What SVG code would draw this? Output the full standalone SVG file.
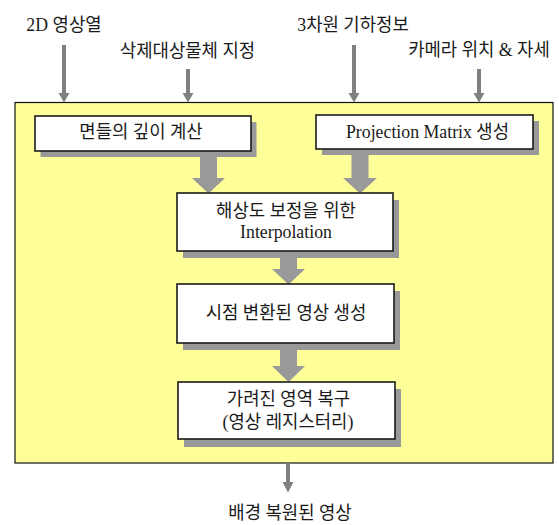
<svg xmlns="http://www.w3.org/2000/svg" width="559" height="525" viewBox="0 0 559 525">
<style>
text{font-family:"Liberation Serif","Noto Sans CJK KR",serif;font-size:17.8px;fill:#1a1a1a;text-anchor:middle}
.box{fill:#fff;stroke:#1a1a1a;stroke-width:1.6}
.shadow{fill:#999}
.block{fill:#999}
.thin{stroke:#808080;stroke-width:4;fill:none}
.head{fill:#808080}
</style>
<rect x="0" y="0" width="559" height="525" fill="#fff"/>
<rect id="frame" x="15" y="102.5" width="538" height="360.5" fill="#ffff99" stroke="#111" stroke-width="1.2"/>
<g id="connectors">
<line class="thin" x1="64" y1="45" x2="64" y2="94"/><polygon class="head" points="58.5,93 69.5,93 64,102.5"/>
<line class="thin" x1="188" y1="69" x2="188" y2="94"/><polygon class="head" points="182.5,93 193.5,93 188,102.5"/>
<line class="thin" x1="354" y1="45" x2="354" y2="94"/><polygon class="head" points="348.5,93 359.5,93 354,102.5"/>
<line class="thin" x1="479" y1="69" x2="479" y2="94"/><polygon class="head" points="473.5,93 484.5,93 479,102.5"/>
<line class="thin" x1="288" y1="463" x2="288" y2="483"/><polygon class="head" points="282.5,482 293.5,482 288,492.5"/>
<polygon class="block" points="200,155 217,155 217,178 225,178 208.5,193.5 192,178 200,178"/>
<polygon class="block" points="351.5,155 368.5,155 368.5,178 377,178 360,193.5 343,178 351.5,178"/>
<polygon class="block" points="280,257 297,257 297,269 305,269 288.5,284.5 272,269 280,269"/>
<polygon class="block" points="280,349 297,349 297,366 305,366 288.5,382 272,366 280,366"/>
</g>
<g id="in1"><text x="64" y="31">2D 영상열</text></g>
<g id="in2"><text x="187.5" y="56.5">삭제대상물체 지정</text></g>
<g id="in3"><text x="353" y="30.5">3차원 기하정보</text></g>
<g id="in4"><text x="479" y="56">카메라 위치 &amp; 자세</text></g>
<g id="n1"><rect class="shadow" x="40.5" y="122" width="216" height="35"/><rect class="box" x="35" y="116" width="216" height="35"/><text x="141" y="138">면들의 깊이 계산</text></g>
<g id="n2"><rect class="shadow" x="322" y="121" width="217" height="34"/><rect class="box" x="316" y="115" width="217" height="34"/><text x="427.5" y="137.5">Projection Matrix 생성</text></g>
<g id="n3"><rect class="shadow" x="183" y="200" width="216" height="58"/><rect class="box" x="177" y="193" width="216" height="58"/><text x="286" y="216.5">해상도 보정을 위한</text><text x="286" y="238">Interpolation</text></g>
<g id="n4"><rect class="shadow" x="183" y="291" width="217" height="59"/><rect class="box" x="177" y="284" width="217" height="59"/><text x="286" y="319">시점 변환된 영상 생성</text></g>
<g id="n5"><rect class="shadow" x="184" y="389" width="217" height="58"/><rect class="box" x="178" y="382" width="217" height="57"/><text x="288.5" y="404.5">가려진 영역 복구</text><text x="288" y="427.5">(영상 레지스터리)</text></g>
<g id="out"><text x="290" y="518.5">배경 복원된 영상</text></g>
</svg>
